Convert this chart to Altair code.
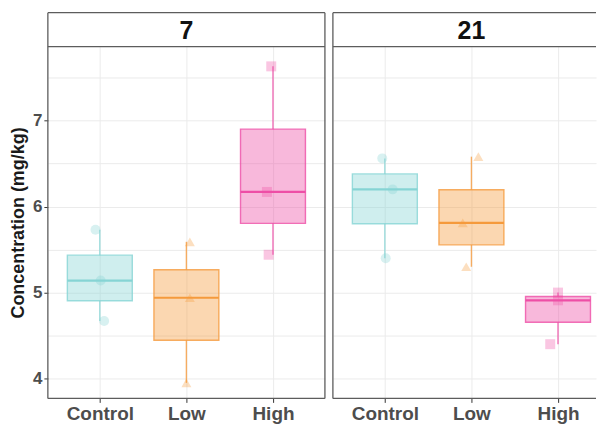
import altair as alt
import pandas as pd

days = ["7", "21"]
groups = ["Control", "Low", "High"]

# concentrations (mg/kg), three replicates per group
day7_control = [5.73, 5.14, 4.67]
day7_low = [5.59, 4.94, 3.95]
day7_high = [7.63, 6.17, 5.44]
day21_control = [6.56, 6.20, 5.40]
day21_low = [6.58, 5.81, 5.30]
day21_high = [5.00, 4.91, 4.40]

# horizontal jitter of the points (category units)
jit7_control = [-0.05, 0.01, 0.05]
jit7_low = [0.04, 0.04, 0.0]
jit7_high = [-0.02, -0.07, -0.05]
jit21_control = [-0.03, 0.09, 0.01]
jit21_low = [0.08, -0.10, -0.06]
jit21_high = [0.0, 0.0, -0.09]

colors = ["#86d4d4", "#f59a3c", "#ee4ea6"]
shapes = ["circle", "triangle-up", "square"]

series = {
    ("7", "Control"): (day7_control, jit7_control),
    ("7", "Low"): (day7_low, jit7_low),
    ("7", "High"): (day7_high, jit7_high),
    ("21", "Control"): (day21_control, jit21_control),
    ("21", "Low"): (day21_low, jit21_low),
    ("21", "High"): (day21_high, jit21_high),
}
rows = []
for (d, g), (vals, jits) in series.items():
    for v, j in zip(vals, jits):
        rows.append({"day": d, "group": g, "pos": groups.index(g) + 1, "value": v, "jitter": j})
df = pd.DataFrame(rows)

W = 278          # full panel width
W_RIGHT = 264    # visible part of the right panel (it is cut by the picture edge)
H = 353
STRIP_H = 34
BORDER = "#5c5c5c"
FONT = "Liberation Sans"
STEP = W / 3.2   # pixels per category unit

fill_enc = alt.Fill("group:N", scale=alt.Scale(domain=groups, range=colors), legend=None)
stroke_enc = alt.Stroke("group:N", scale=alt.Scale(domain=groups, range=colors), legend=None)
shape_enc = alt.Shape("group:N", scale=alt.Scale(domain=groups, range=shapes), legend=None)

label_expr = "[" + ",".join("'" + g + "'" for g in groups) + "][datum.value - 1]"
grid_vals = [4.0, 4.5, 5.0, 5.5, 6.0, 6.5, 7.0, 7.5]
one = pd.DataFrame({"k": [0]})


def panel(day, first):
    width = W if first else W_RIGHT
    xs = alt.Scale(domain=[0.4, 0.4 + width / STEP], nice=False, zero=False)
    ys = alt.Scale(domain=[3.77, 7.86], nice=False, zero=False)
    xaxis = alt.Axis(values=[1, 2, 3], labelExpr=label_expr, title=None, grid=True,
                     gridColor="#ebebeb", gridWidth=1, domain=False, tickColor="#333333",
                     tickSize=4, labelFont=FONT, labelFontSize=19, labelFontWeight="bold",
                     labelColor="#4d4d4d", labelPadding=2)
    if first:
        yaxis = alt.Axis(values=grid_vals, title="Concentration (mg/kg)",
                         labelExpr="datum.value % 1 === 0 ? format(datum.value, 'd') : ''",
                         tickOpacity={"condition": {"test": "datum.value % 1 === 0", "value": 1}, "value": 0},
                         grid=True, gridColor="#ebebeb", gridWidth=1, domain=False,
                         tickColor="#333333", tickSize=4, labelFont=FONT, labelFontSize=17,
                         labelFontWeight="bold", labelColor="#4d4d4d", labelPadding=2,
                         titleFont=FONT, titleFontSize=18, titleFontWeight="bold",
                         titleColor="#1a1a1a", titlePadding=5)
    else:
        yaxis = alt.Axis(values=grid_vals, title=None, labels=False, ticks=False, domain=False,
                         grid=True, gridColor="#ebebeb", gridWidth=1)

    base = alt.Chart(df).transform_filter(alt.datum.day == day)
    stats = base.transform_aggregate(
        lo="min(value)", hi="max(value)", q1="q1(value)", q3="q3(value)", med="median(value)",
        groupby=["group", "pos"],
    ).transform_calculate(left="datum.pos - 0.375", right="datum.pos + 0.375")

    whisk_lo = stats.mark_rule(strokeWidth=1.4, strokeOpacity=0.8).encode(
        x=alt.X("pos:Q", scale=xs, axis=xaxis),
        y=alt.Y("lo:Q", scale=ys, axis=yaxis),
        y2="q1:Q",
        stroke=stroke_enc,
    )
    whisk_hi = stats.mark_rule(strokeWidth=1.4, strokeOpacity=0.8).encode(
        x=alt.X("pos:Q", scale=xs), y=alt.Y("q3:Q", scale=ys), y2="hi:Q", stroke=stroke_enc
    )
    box = stats.mark_bar(fillOpacity=0.4, strokeOpacity=0.8, strokeWidth=1.4).encode(
        x=alt.X("left:Q", scale=xs), x2="right:Q",
        y=alt.Y("q1:Q", scale=ys), y2="q3:Q",
        fill=fill_enc, stroke=stroke_enc,
    )
    pts = base.transform_calculate(px="datum.pos + datum.jitter").mark_point(
        filled=True, size=100, opacity=0.32
    ).encode(
        x=alt.X("px:Q", scale=xs), y=alt.Y("value:Q", scale=ys), fill=fill_enc, shape=shape_enc
    )
    med = stats.mark_rule(strokeWidth=2.2).encode(
        x=alt.X("left:Q", scale=xs), x2="right:Q", y=alt.Y("med:Q", scale=ys), stroke=stroke_enc
    )

    # strip (panel header) and panel border
    border = alt.Chart(one)
    strip_bg = border.mark_rect(fill="white", stroke=None).encode(
        x=alt.value(0), x2=alt.value(width), y=alt.value(-STRIP_H), y2=alt.value(0)
    )
    strip_txt = alt.Chart(pd.DataFrame({"day": [day]})).mark_text(
        font=FONT, fontSize=25, fontWeight="bold", color="#111111", baseline="middle", align="center"
    ).encode(text="day:N", x=alt.value(W / 2), y=alt.value(-STRIP_H / 2 + 1))
    rule_kw = dict(color=BORDER, strokeWidth=1.3)
    left_edge = border.mark_rule(**rule_kw).encode(
        x=alt.value(0), y=alt.value(-STRIP_H), y2=alt.value(H)
    )
    tops = [
        border.mark_rule(**rule_kw).encode(x=alt.value(0), x2=alt.value(width), y=alt.value(yy))
        for yy in (-STRIP_H, 0, H)
    ]
    layers = [whisk_lo, whisk_hi, box, pts, med, strip_bg, strip_txt, left_edge] + tops
    if first:
        layers.append(border.mark_rule(**rule_kw).encode(
            x=alt.value(width), y=alt.value(-STRIP_H), y2=alt.value(H)))
    return alt.layer(*layers).properties(
        width=width, height=H, view=alt.ViewBackground(stroke=None, fill="white")
    )


chart = alt.hconcat(panel("7", True), panel("21", False), spacing=6).resolve_scale(
    x="independent", y="independent"
).properties(
    padding={"left": 1, "top": 3, "right": 0, "bottom": 0}
).configure(background="white")

chart.save("out.html", embed_options={"renderer": "svg", "actions": False})
